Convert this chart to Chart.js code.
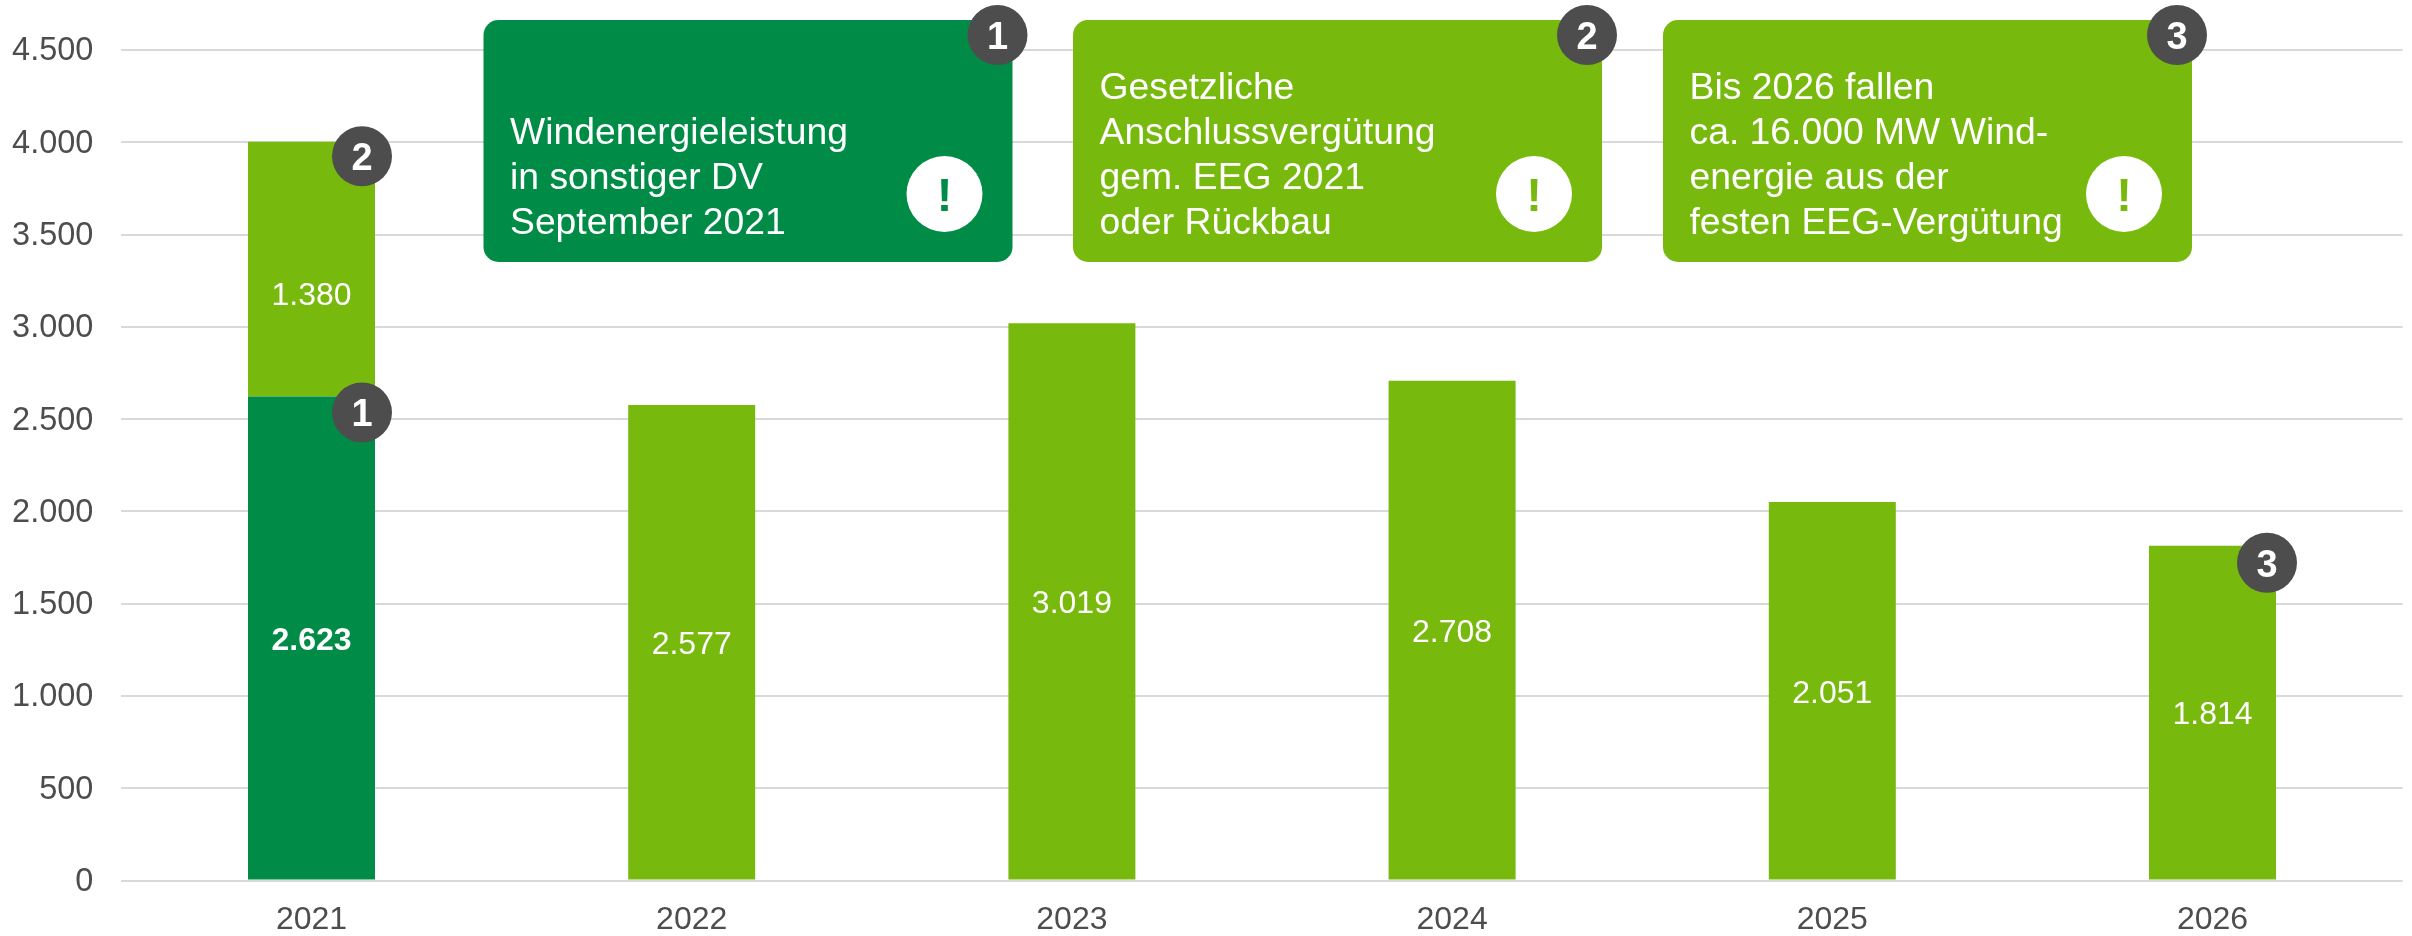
<!DOCTYPE html>
<html lang="de">
<head>
<meta charset="utf-8">
<title>Windenergieleistung</title>
<style>html,body{margin:0;padding:0;background:#fff}canvas{display:block}</style>
<script src="https://cdn.jsdelivr.net/npm/chart.js@4/dist/chart.umd.min.js"></script>
</head>
<body>
<canvas id="c" width="2412" height="936"></canvas>
<script>
const categories = ['2021','2022','2023','2024','2025','2026'];
const sonstigeDV = [2623,null,null,null,null,null];
const eegEnde    = [1380,2577,3019,2708,2051,1814];
const yTicks = [0,500,1000,1500,2000,2500,3000,3500,4000,4500];
const barBadges = [
  {dataset:0,index:0,num:'1'},
  {dataset:1,index:0,num:'2'},
  {dataset:1,index:5,num:'3'}
];
const calloutTexts = [
  ['Windenergieleistung','in sonstiger DV','September 2021'],
  ['Gesetzliche','Anschlussvergütung','gem. EEG 2021','oder Rückbau'],
  ['Bis 2026 fallen','ca. 16.000 MW Wind-','energie aus der','festen EEG-Vergütung']
];
const calloutNums = ['1','2','3'];

const DARK='#008C46', GREEN='#78B90E', GREY='#4D4D4D', GRID='#D9D9D9';
const FONT='"Liberation Sans", Arial, sans-serif';
const fmt = v => String(v).replace(/\B(?=(\d{3})+(?!\d))/g,'.');

const calloutBoxes = [
  {x:483.5,w:529,color:DARK,firstBase:144},
  {x:1073,w:529,color:GREEN,firstBase:99},
  {x:1663,w:529,color:GREEN,firstBase:99}
];
const badgeOffsets = [{dx:-13,dy:16},{dx:-13,dy:14.5},{dx:-9,dy:17}];
const BOX_Y=20, BOX_H=242, BOX_R=15;

function badge(ctx,x,y,n){
  ctx.fillStyle=GREY;ctx.beginPath();ctx.arc(x,y,30,0,Math.PI*2);ctx.fill();
  ctx.fillStyle='#fff';ctx.font='bold 38px '+FONT;ctx.textAlign='center';ctx.textBaseline='alphabetic';
  ctx.fillText(n,x,y+14);
}

const overlay = {
  id:'overlay',
  afterDatasetsDraw(chart){
    const ctx=chart.ctx;
    ctx.save();
    ctx.textAlign='center';ctx.textBaseline='middle';
    chart.data.datasets.forEach((ds,di)=>{
      const meta=chart.getDatasetMeta(di);
      ds.data.forEach((v,i)=>{
        if(v==null)return;
        const el=meta.data[i];
        const p=el.getProps(['x','y','base'],true);
        const shift=(di===1&&i===0)?27:3;
        ctx.fillStyle='#fff';
        ctx.font=(di===0?'bold ':'')+'32px '+FONT;
        ctx.fillText(fmt(v),p.x,(p.y+p.base)/2+shift);
      });
    });
    barBadges.forEach((b,i)=>{
      const el=chart.getDatasetMeta(b.dataset).data[b.index];
      const p=el.getProps(['x','y','width'],true);
      badge(ctx,p.x+p.width/2+badgeOffsets[i].dx,p.y+badgeOffsets[i].dy,b.num);
    });
    calloutBoxes.forEach((b,i)=>{
      ctx.fillStyle=b.color;
      ctx.beginPath();ctx.roundRect(b.x,BOX_Y,b.w,BOX_H,BOX_R);ctx.fill();
      ctx.fillStyle='#fff';ctx.font='37.3px '+FONT;ctx.textAlign='left';ctx.textBaseline='alphabetic';
      calloutTexts[i].forEach((t,k)=>ctx.fillText(t,b.x+26.5,b.firstBase+k*45));
      const cx=b.x+b.w-68, cy=194;
      ctx.beginPath();ctx.arc(cx,cy,38,0,Math.PI*2);ctx.fill();
      ctx.fillStyle=b.color;ctx.font='bold 47px '+FONT;ctx.textAlign='center';
      ctx.fillText('!',cx,cy+17);
      badge(ctx,b.x+b.w-15,35,calloutNums[i]);
    });
    ctx.restore();
  }
};

new Chart(document.getElementById('c'),{
  type:'bar',
  data:{labels:categories,datasets:[
    {label:'Windenergieleistung in sonstiger DV',data:sonstigeDV,backgroundColor:DARK,stack:'s'},
    {label:'Ende EEG-Vergütung',data:eegEnde,backgroundColor:GREEN,stack:'s'}
  ]},
  options:{
    responsive:false,animation:false,
    layout:{padding:{top:50,right:9.4,left:0,bottom:0}},
    datasets:{bar:{categoryPercentage:1,barPercentage:0.334}},
    plugins:{legend:{display:false},tooltip:{enabled:false},title:{display:false}},
    scales:{
      x:{stacked:true,
        grid:{display:false},border:{display:false},
        ticks:{color:GREY,font:{family:FONT,size:32},padding:12,maxRotation:0},
        afterFit(s){s.height=55.5;}
      },
      y:{stacked:true,min:0,max:4500,
        afterBuildTicks(s){s.ticks=yTicks.map(v=>({value:v}));},
        grid:{color:GRID,lineWidth:2,drawTicks:false},border:{display:false},
        ticks:{color:GREY,font:{family:FONT,size:32.5},padding:28,labelOffset:1.5,callback:v=>fmt(v)},
        afterFit(s){s.width=121.4;}
      }
    }
  },
  plugins:[overlay]
});
</script>
</body>
</html>
